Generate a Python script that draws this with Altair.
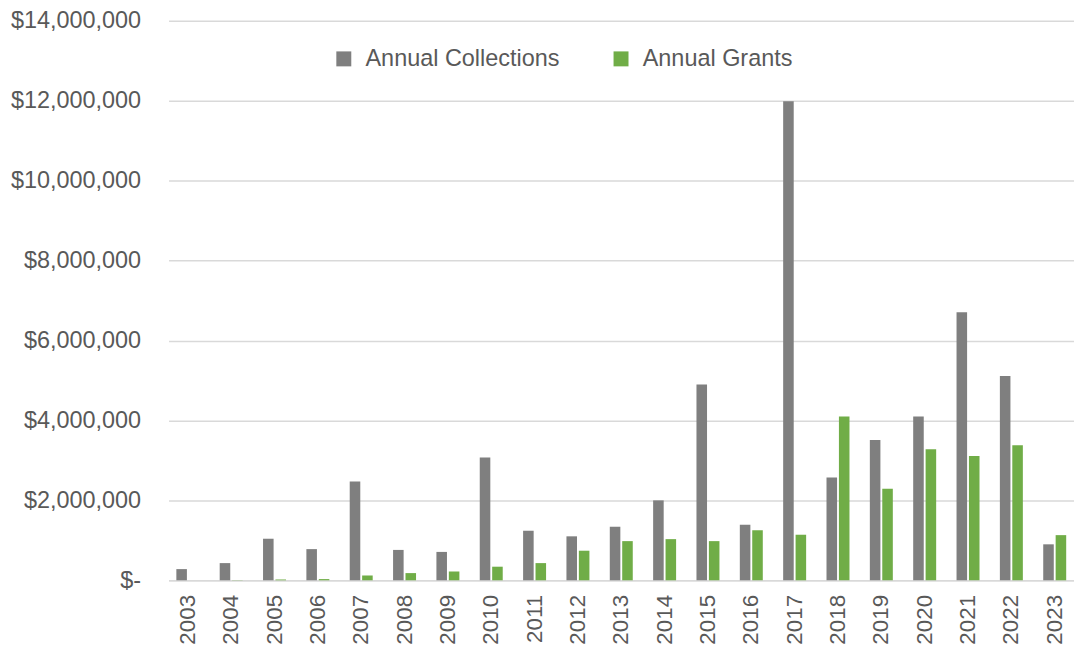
import altair as alt
import pandas as pd

years = [str(y) for y in range(2003, 2024)]
collections = [280000, 430000, 1040000, 780000, 2470000, 760000, 710000, 3075000,
               1240000, 1100000, 1340000, 2000000, 4900000, 1390000, 11990000,
               2570000, 3510000, 4100000, 6710000, 5110000, 900000]
grants = [0, 5000, 20000, 30000, 120000, 180000, 220000, 340000, 430000, 740000,
          980000, 1030000, 980000, 1250000, 1140000, 4100000, 2290000, 3280000,
          3110000, 3380000, 1130000]
series = ["Annual Collections", "Annual Grants"]
colors = ["#7f7f7f", "#70ad47"]

rows = []
for i, y in enumerate(years):
    rows.append({"Year": y, "Series": series[0], "Value": collections[i]})
    rows.append({"Year": y, "Series": series[1], "Value": grants[i]})
df = pd.DataFrame(rows)

FONT = "Liberation Sans"
TXT = "#595959"

chart = alt.Chart(df).mark_bar().encode(
    x=alt.X("Year:N", sort=years, title=None,
            scale=alt.Scale(paddingInner=0.47, paddingOuter=0.18),
            axis=alt.Axis(labelAngle=-90, labelFont=FONT, labelFontSize=22.5,
                          labelColor=TXT, ticks=False, domainColor="#d9d9d9",
                          domainWidth=1.5, labelPadding=14, labelAlign="right",
                          labelBaseline="middle")),
    xOffset=alt.XOffset("Series:N", sort=series,
                        scale=alt.Scale(paddingInner=0.15)),
    y=alt.Y("Value:Q", title=None,
            scale=alt.Scale(domain=[0, 14000000], nice=False),
            axis=alt.Axis(values=list(range(0, 14000001, 2000000)),
                          labelExpr="datum.value == 0 ? '$-\u00a0\u00a0' : '$' + format(datum.value, ',')",
                          labelFont=FONT, labelFontSize=23.5, labelColor=TXT,
                          ticks=False, domain=False, gridColor="#d9d9d9",
                          gridWidth=1.5, labelPadding=28)),
    color=alt.Color("Series:N", sort=series,
                    scale=alt.Scale(domain=series, range=colors),
                    legend=alt.Legend(title=None, orient="none", direction="horizontal",
                                      legendX=164, legendY=26,
                                      symbolType="square", symbolSize=225,
                                      symbolStrokeWidth=0, labelLimit=0,
                                      labelFont=FONT, labelFontSize=23.5,
                                      labelColor=TXT, labelOffset=10,
                                      columnPadding=49)),
).properties(
    width=908, height=561,
    padding={"left": 2, "top": 0, "right": 0, "bottom": 0},
).configure_view(stroke=None)

chart.save("out.html", embed_options={"renderer": "svg", "actions": False})
